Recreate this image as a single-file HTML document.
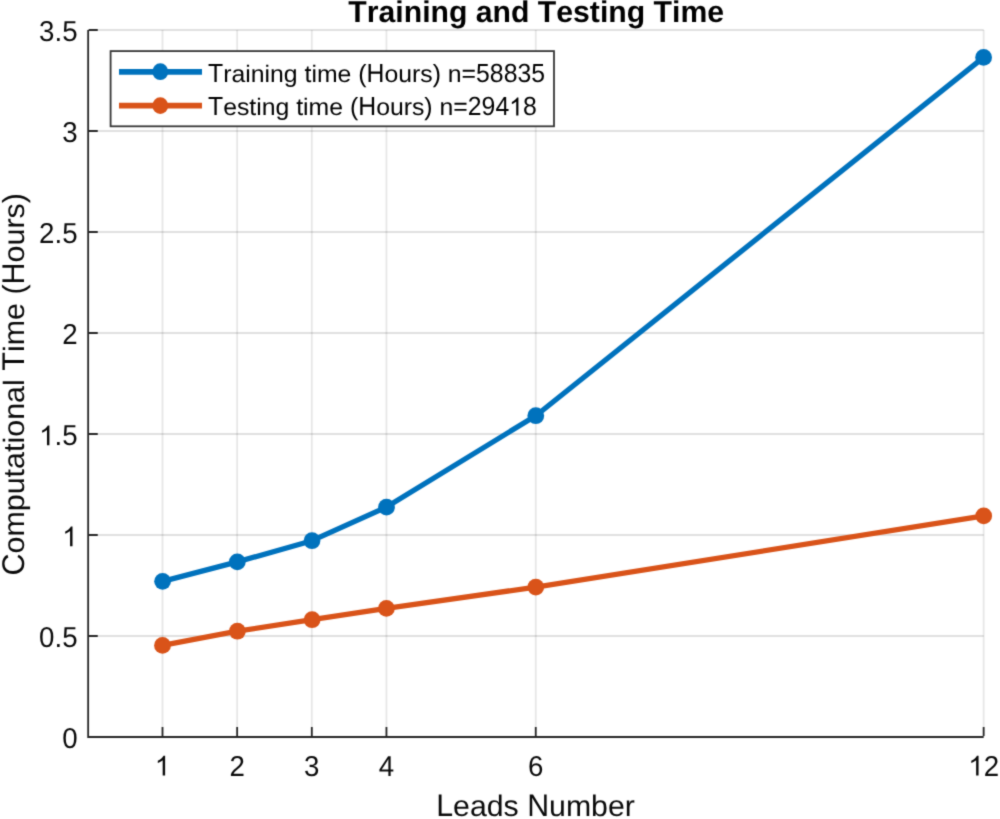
<!DOCTYPE html>
<html><head><meta charset="utf-8"><style>html,body{margin:0;padding:0;background:#fff;overflow:hidden}svg{display:block;will-change:transform}text{font-kerning:none;text-rendering:geometricPrecision}</style></head>
<body><svg width="1000" height="819" viewBox="0 0 1000 819">
<defs><filter id="soft" x="0" y="0" width="1" height="1" color-interpolation-filters="sRGB"><feConvolveMatrix order="3" kernelMatrix="0.025 0.1 0.025 0.1 0.5 0.1 0.025 0.1 0.025" edgeMode="duplicate"/></filter></defs>
<g filter="url(#soft)">
<rect width="1000" height="819" fill="#fff"/>
<path d="M162.50 737.0V30.00 M237.15 737.0V30.00 M311.80 737.0V30.00 M386.45 737.0V30.00 M535.75 737.0V30.00 M983.65 737.0V30.00" stroke="#262626" stroke-opacity="0.11" stroke-width="1.8" fill="none"/>
<path d="M87.85 636.00H983.65 M87.85 535.00H983.65 M87.85 434.00H983.65 M87.85 333.00H983.65 M87.85 232.00H983.65 M87.85 131.00H983.65 M87.85 30.00H983.65" stroke="#262626" stroke-opacity="0.145" stroke-width="1.8" fill="none"/>
<path d="M88.15 30.00V737.0H983.65" stroke="#262626" stroke-width="1.8" fill="none"/>
<path d="M162.50 736.10v-9 M237.15 736.10v-9 M311.80 736.10v-9 M386.45 736.10v-9 M535.75 736.10v-9 M983.65 736.10v-9 M88.75 636.00h9 M88.75 535.00h9 M88.75 434.00h9 M88.75 333.00h9 M88.75 232.00h9 M88.75 131.00h9 M88.75 30.00h9" stroke="#262626" stroke-width="1.8" fill="none"/>
<path d="M162.6 581.35 L237.3 561.9 L312.0 540.7 L386.5 507.1 L535.8 415.7 L983.6 57.4" stroke="#0072BD" stroke-width="5.3" fill="none" stroke-linejoin="round"/><circle cx="162.6" cy="581.35" r="8.4" fill="#0072BD"/><circle cx="237.3" cy="561.9" r="8.4" fill="#0072BD"/><circle cx="312.0" cy="540.7" r="8.4" fill="#0072BD"/><circle cx="386.5" cy="507.1" r="8.4" fill="#0072BD"/><circle cx="535.8" cy="415.7" r="8.4" fill="#0072BD"/><circle cx="983.6" cy="57.4" r="8.4" fill="#0072BD"/>
<path d="M162.5 645.4 L237.4 631.2 L312.1 619.7 L386.4 608.4 L535.8 587.1 L983.7 515.9" stroke="#D95319" stroke-width="5.3" fill="none" stroke-linejoin="round"/><circle cx="162.5" cy="645.4" r="8.4" fill="#D95319"/><circle cx="237.4" cy="631.2" r="8.4" fill="#D95319"/><circle cx="312.1" cy="619.7" r="8.4" fill="#D95319"/><circle cx="386.4" cy="608.4" r="8.4" fill="#D95319"/><circle cx="535.8" cy="587.1" r="8.4" fill="#D95319"/><circle cx="983.7" cy="515.9" r="8.4" fill="#D95319"/>
<path transform="translate(162.50 775.60) translate(-7.703 0) scale(0.013525 -0.014066)" d="M763 0H583V1095Q518 1036 412.5 977Q307 918 223 889V1055Q374 1122 487 1219Q600 1315 647 1405H763Z" fill="#0a0a0a"/>
<text transform="translate(237.15 775.60) translate(-7.703 0) scale(1 1.04)" font-family="Liberation Sans, sans-serif" font-size="27.7" fill="#0a0a0a" xml:space="preserve">2</text>
<text transform="translate(311.80 775.60) translate(-7.703 0) scale(1 1.04)" font-family="Liberation Sans, sans-serif" font-size="27.7" fill="#0a0a0a" xml:space="preserve">3</text>
<text transform="translate(386.45 775.60) translate(-7.703 0) scale(1 1.04)" font-family="Liberation Sans, sans-serif" font-size="27.7" fill="#0a0a0a" xml:space="preserve">4</text>
<text transform="translate(535.75 775.60) translate(-7.703 0) scale(1 1.04)" font-family="Liberation Sans, sans-serif" font-size="27.7" fill="#0a0a0a" xml:space="preserve">6</text>
<text transform="translate(983.65 775.60) translate(-15.405 0) scale(1 1.04)" font-family="Liberation Sans, sans-serif" font-size="27.7" fill="#0a0a0a" xml:space="preserve"> 2</text>
<path transform="translate(983.65 775.60) translate(-15.405 0) scale(0.013525 -0.014066)" d="M763 0H583V1095Q518 1036 412.5 977Q307 918 223 889V1055Q374 1122 487 1219Q600 1315 647 1405H763Z" fill="#0a0a0a"/>
<text transform="translate(77.60 748.30) translate(-15.405 0) scale(1 1.04)" font-family="Liberation Sans, sans-serif" font-size="27.7" fill="#0a0a0a" xml:space="preserve">0</text>
<text transform="translate(77.60 647.30) translate(-38.507 0) scale(1 1.04)" font-family="Liberation Sans, sans-serif" font-size="27.7" fill="#0a0a0a" xml:space="preserve">0</text>
<text transform="translate(77.60 647.30) translate(-23.101 0) scale(1 1.0)" font-family="Liberation Sans, sans-serif" font-size="27.7" fill="#0a0a0a" xml:space="preserve">.</text>
<text transform="translate(77.60 647.30) translate(-15.405 0) scale(1 1.04)" font-family="Liberation Sans, sans-serif" font-size="27.7" fill="#0a0a0a" xml:space="preserve">5</text>
<path transform="translate(77.60 546.30) translate(-15.405 0) scale(0.013525 -0.014066)" d="M763 0H583V1095Q518 1036 412.5 977Q307 918 223 889V1055Q374 1122 487 1219Q600 1315 647 1405H763Z" fill="#0a0a0a"/>
<text transform="translate(77.60 445.30) translate(-23.101 0) scale(1 1.0)" font-family="Liberation Sans, sans-serif" font-size="27.7" fill="#0a0a0a" xml:space="preserve">.</text>
<text transform="translate(77.60 445.30) translate(-15.405 0) scale(1 1.04)" font-family="Liberation Sans, sans-serif" font-size="27.7" fill="#0a0a0a" xml:space="preserve">5</text>
<path transform="translate(77.60 445.30) translate(-38.507 0) scale(0.013525 -0.014066)" d="M763 0H583V1095Q518 1036 412.5 977Q307 918 223 889V1055Q374 1122 487 1219Q600 1315 647 1405H763Z" fill="#0a0a0a"/>
<text transform="translate(77.60 344.30) translate(-15.405 0) scale(1 1.04)" font-family="Liberation Sans, sans-serif" font-size="27.7" fill="#0a0a0a" xml:space="preserve">2</text>
<text transform="translate(77.60 243.30) translate(-38.507 0) scale(1 1.04)" font-family="Liberation Sans, sans-serif" font-size="27.7" fill="#0a0a0a" xml:space="preserve">2</text>
<text transform="translate(77.60 243.30) translate(-23.101 0) scale(1 1.0)" font-family="Liberation Sans, sans-serif" font-size="27.7" fill="#0a0a0a" xml:space="preserve">.</text>
<text transform="translate(77.60 243.30) translate(-15.405 0) scale(1 1.04)" font-family="Liberation Sans, sans-serif" font-size="27.7" fill="#0a0a0a" xml:space="preserve">5</text>
<text transform="translate(77.60 142.30) translate(-15.405 0) scale(1 1.04)" font-family="Liberation Sans, sans-serif" font-size="27.7" fill="#0a0a0a" xml:space="preserve">3</text>
<text transform="translate(77.60 41.30) translate(-38.507 0) scale(1 1.04)" font-family="Liberation Sans, sans-serif" font-size="27.7" fill="#0a0a0a" xml:space="preserve">3</text>
<text transform="translate(77.60 41.30) translate(-23.101 0) scale(1 1.0)" font-family="Liberation Sans, sans-serif" font-size="27.7" fill="#0a0a0a" xml:space="preserve">.</text>
<text transform="translate(77.60 41.30) translate(-15.405 0) scale(1 1.04)" font-family="Liberation Sans, sans-serif" font-size="27.7" fill="#0a0a0a" xml:space="preserve">5</text>
<text transform="translate(535.55 815.60) translate(-99.370 0) scale(1 1.035)" font-family="Liberation Sans, sans-serif" font-size="30.3" fill="#0a0a0a" xml:space="preserve">L</text>
<text transform="translate(535.55 815.60) translate(-82.519 0) scale(1 0.975)" font-family="Liberation Sans, sans-serif" font-size="30.3" fill="#0a0a0a" xml:space="preserve">eads</text>
<text transform="translate(535.55 815.60) translate(-8.396 0) scale(1 1.035)" font-family="Liberation Sans, sans-serif" font-size="30.3" fill="#0a0a0a" xml:space="preserve">N</text>
<text transform="translate(535.55 815.60) translate(13.486 0) scale(1 0.975)" font-family="Liberation Sans, sans-serif" font-size="30.3" fill="#0a0a0a" xml:space="preserve">umber</text>
<text transform="translate(24.00 384.30) rotate(-90) translate(-191.219 0) scale(1 1.03)" font-family="Liberation Sans, sans-serif" font-size="30.45" fill="#0a0a0a" xml:space="preserve">C</text>
<text transform="translate(24.00 384.30) rotate(-90) translate(-169.229 0) scale(1 0.965)" font-family="Liberation Sans, sans-serif" font-size="30.45" fill="#0a0a0a" xml:space="preserve">omputational</text>
<text transform="translate(24.00 384.30) rotate(-90) translate(13.590 0) scale(1 1.03)" font-family="Liberation Sans, sans-serif" font-size="30.45" fill="#0a0a0a" xml:space="preserve">T</text>
<text transform="translate(24.00 384.30) rotate(-90) translate(32.190 0) scale(1 0.965)" font-family="Liberation Sans, sans-serif" font-size="30.45" fill="#0a0a0a" xml:space="preserve">ime</text>
<text transform="translate(24.00 384.30) rotate(-90) translate(81.255 0) scale(1 1.0)" font-family="Liberation Sans, sans-serif" font-size="30.45" fill="#0a0a0a" xml:space="preserve"> (</text>
<text transform="translate(24.00 384.30) rotate(-90) translate(99.855 0) scale(1 1.03)" font-family="Liberation Sans, sans-serif" font-size="30.45" fill="#0a0a0a" xml:space="preserve">H</text>
<text transform="translate(24.00 384.30) rotate(-90) translate(121.845 0) scale(1 0.965)" font-family="Liberation Sans, sans-serif" font-size="30.45" fill="#0a0a0a" xml:space="preserve">ours</text>
<text transform="translate(24.00 384.30) rotate(-90) translate(181.079 0) scale(1 1.0)" font-family="Liberation Sans, sans-serif" font-size="30.45" fill="#0a0a0a" xml:space="preserve">)</text>
<text transform="translate(536.25 22.00) translate(-187.924 0) scale(1 1.0)" font-family="Liberation Sans, sans-serif" font-size="30.2" font-weight="bold" fill="#000" xml:space="preserve">Training and Testing Time</text>
<rect x="110.6" y="51.1" width="443.4" height="75.2" fill="#fff" stroke="#363636" stroke-width="1.8"/>
<path d="M119 71.8H202" stroke="#0072BD" stroke-width="5.8"/><ellipse cx="160.3" cy="71.7" rx="7.9" ry="8.4" fill="#0072BD"/>
<path d="M119 105.7H202" stroke="#D95319" stroke-width="5.8"/><ellipse cx="160.3" cy="105.6" rx="7.9" ry="8.4" fill="#D95319"/>
<text transform="translate(208.00 82.20) translate(0.000 0) scale(1 1.06)" font-family="Liberation Sans, sans-serif" font-size="24.8" fill="#000" xml:space="preserve">T</text>
<text transform="translate(208.00 82.20) translate(15.149 0) scale(1 0.965)" font-family="Liberation Sans, sans-serif" font-size="24.8" fill="#000" xml:space="preserve">raining</text>
<text transform="translate(208.00 82.20) translate(96.487 0) scale(1 0.965)" font-family="Liberation Sans, sans-serif" font-size="24.8" fill="#000" xml:space="preserve">time</text>
<text transform="translate(208.00 82.20) translate(143.339 0) scale(1 1.0)" font-family="Liberation Sans, sans-serif" font-size="24.8" fill="#000" xml:space="preserve"> (</text>
<text transform="translate(208.00 82.20) translate(158.487 0) scale(1 1.06)" font-family="Liberation Sans, sans-serif" font-size="24.8" fill="#000" xml:space="preserve">H</text>
<text transform="translate(208.00 82.20) translate(176.397 0) scale(1 0.965)" font-family="Liberation Sans, sans-serif" font-size="24.8" fill="#000" xml:space="preserve">ours</text>
<text transform="translate(208.00 82.20) translate(224.641 0) scale(1 1.0)" font-family="Liberation Sans, sans-serif" font-size="24.8" fill="#000" xml:space="preserve">) </text>
<text transform="translate(208.00 82.20) translate(239.790 0) scale(1 0.965)" font-family="Liberation Sans, sans-serif" font-size="24.8" fill="#000" xml:space="preserve">n</text>
<text transform="translate(208.00 82.20) translate(253.582 0) scale(1 1.0)" font-family="Liberation Sans, sans-serif" font-size="24.8" fill="#000" xml:space="preserve">=</text>
<text transform="translate(208.00 82.20) translate(268.065 0) scale(1 1.06)" font-family="Liberation Sans, sans-serif" font-size="24.8" fill="#000" xml:space="preserve">58835</text>
<text transform="translate(208.00 115.45) translate(0.000 0) scale(1 1.06)" font-family="Liberation Sans, sans-serif" font-size="24.8" fill="#000" xml:space="preserve">T</text>
<text transform="translate(208.00 115.45) translate(15.149 0) scale(1 0.965)" font-family="Liberation Sans, sans-serif" font-size="24.8" fill="#000" xml:space="preserve">esting</text>
<text transform="translate(208.00 115.45) translate(88.217 0) scale(1 0.965)" font-family="Liberation Sans, sans-serif" font-size="24.8" fill="#000" xml:space="preserve">time</text>
<text transform="translate(208.00 115.45) translate(135.068 0) scale(1 1.0)" font-family="Liberation Sans, sans-serif" font-size="24.8" fill="#000" xml:space="preserve"> (</text>
<text transform="translate(208.00 115.45) translate(150.217 0) scale(1 1.06)" font-family="Liberation Sans, sans-serif" font-size="24.8" fill="#000" xml:space="preserve">H</text>
<text transform="translate(208.00 115.45) translate(168.127 0) scale(1 0.965)" font-family="Liberation Sans, sans-serif" font-size="24.8" fill="#000" xml:space="preserve">ours</text>
<text transform="translate(208.00 115.45) translate(216.370 0) scale(1 1.0)" font-family="Liberation Sans, sans-serif" font-size="24.8" fill="#000" xml:space="preserve">) </text>
<text transform="translate(208.00 115.45) translate(231.519 0) scale(1 0.965)" font-family="Liberation Sans, sans-serif" font-size="24.8" fill="#000" xml:space="preserve">n</text>
<text transform="translate(208.00 115.45) translate(245.312 0) scale(1 1.0)" font-family="Liberation Sans, sans-serif" font-size="24.8" fill="#000" xml:space="preserve">=</text>
<text transform="translate(208.00 115.45) translate(259.795 0) scale(1 1.06)" font-family="Liberation Sans, sans-serif" font-size="24.8" fill="#000" xml:space="preserve">294 8</text>
<path transform="translate(208.00 115.45) translate(301.172 0) scale(0.012109 -0.012836)" d="M763 0H583V1095Q518 1036 412.5 977Q307 918 223 889V1055Q374 1122 487 1219Q600 1315 647 1405H763Z" fill="#000"/>
</g></svg></body></html>
